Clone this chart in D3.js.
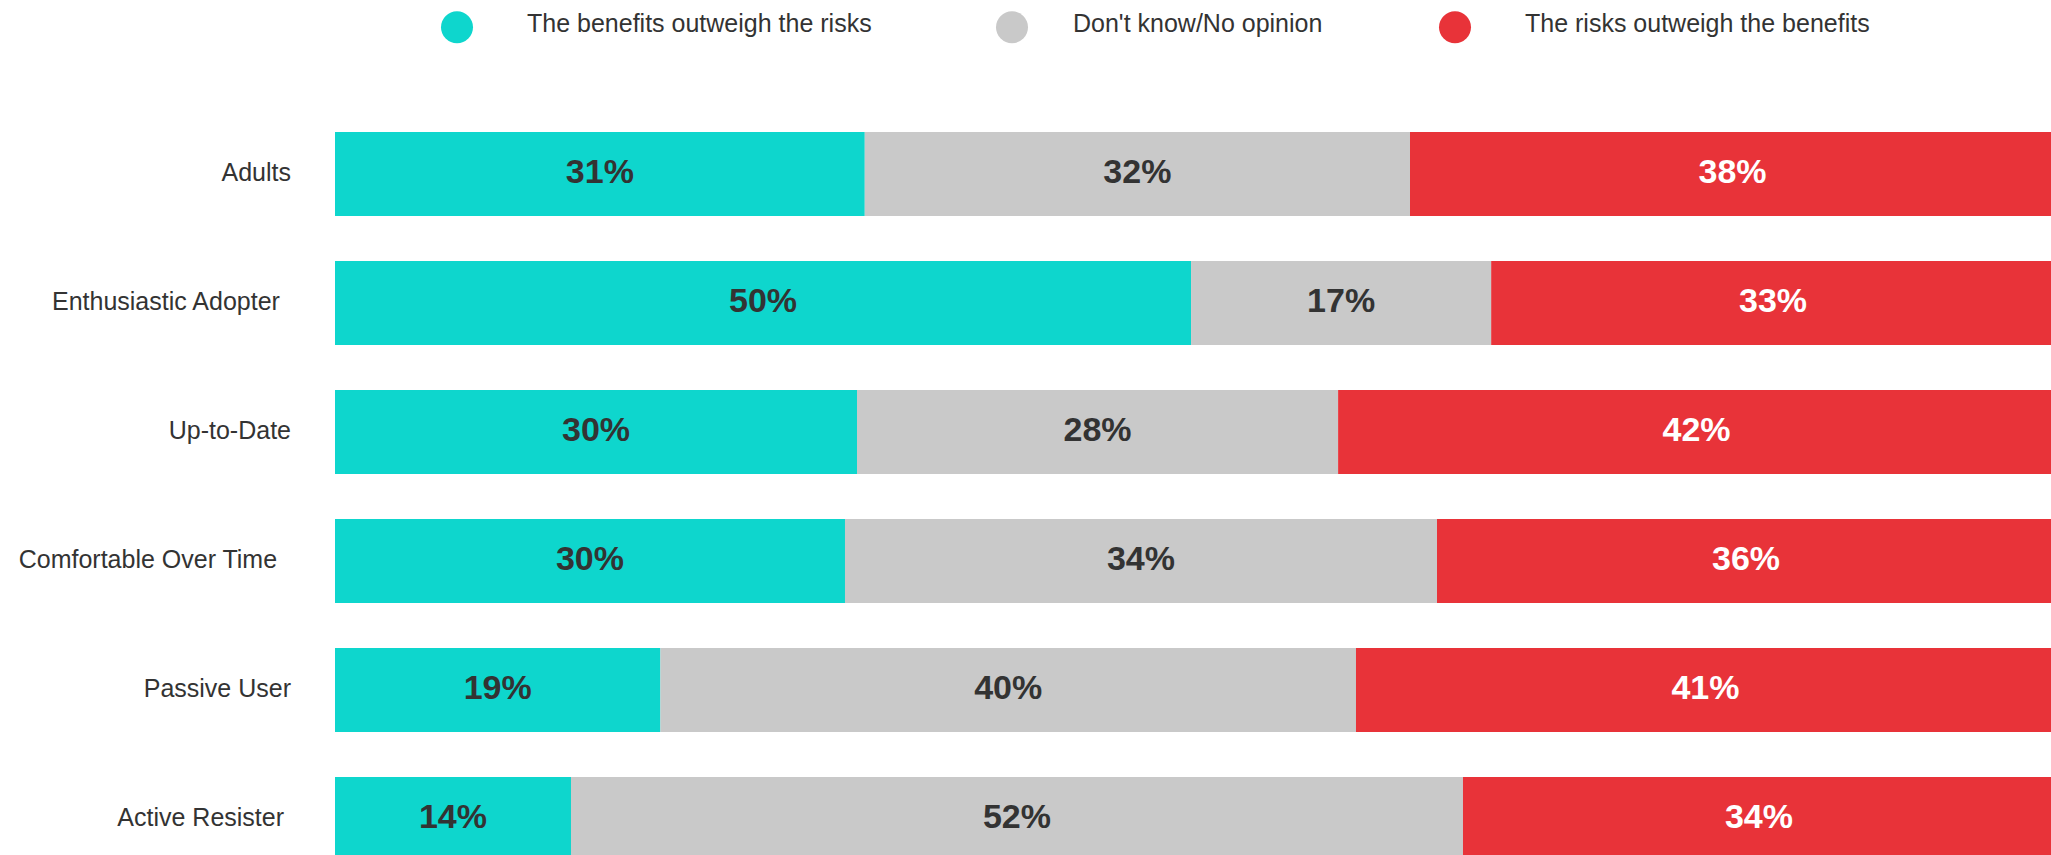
<!DOCTYPE html>
<html>
<head>
<meta charset="utf-8">
<script src="https://cdn.jsdelivr.net/npm/d3@7"></script>
<style>
  html, body { margin: 0; padding: 0; background: #fff; overflow: hidden; }
  svg { display: block; font-family: "Liberation Sans", Arial, sans-serif; }
  text { white-space: pre; }
</style>
</head>
<body>
<svg id="chart" width="2051" height="855"></svg>
<script>
// ---- data ----
const categories = [
  "Adults",
  "Enthusiastic Adopter \u2006",
  "Up-to-Date",
  "Comfortable Over Time  ",
  "Passive User",
  "Active Resister "
];
const seriesNames = [
  "The benefits outweigh the risks",
  "Don't know/No opinion",
  "The risks outweigh the benefits"
];
const benefits = [30.8, 49.77, 30.35, 29.65, 18.92, 13.72];
const dontKnow = [31.7, 17.45, 27.97, 34.42, 40.44, 51.86];
const risks    = [37.5, 32.78, 41.68, 35.93, 40.64, 34.42];

// ---- styles / layout ----
const colors = ["#0ed6cd", "#c9c9c9", "#e83339"];
const labelColors = ["#333333", "#333333", "#ffffff"];

const svg = d3.select("#chart");

const stackData = categories.map((c, i) => ({ cat: c, s0: benefits[i], s1: dontKnow[i], s2: risks[i] }));
const series = d3.stack().keys(["s0", "s1", "s2"])(stackData);

const x = d3.scaleLinear().domain([0, 100]).range([335, 2055]);
const y = d3.scaleBand().domain(categories)
  .range([109.5, 883.5]).paddingInner(45 / 129).paddingOuter(22.5 / 129);

// bars + value labels
const g = svg.append("g");
series.forEach((s, si) => {
  g.append("g").attr("fill", colors[si])
    .selectAll("rect").data(s).join("rect")
    .attr("x", d => x(d[0]))
    .attr("y", d => y(d.data.cat))
    .attr("width", d => x(d[1]) - x(d[0]))
    .attr("height", y.bandwidth());
  g.append("g").selectAll("text").data(s).join("text")
    .attr("x", d => (x(d[0]) + x(d[1])) / 2)
    .attr("y", d => y(d.data.cat) + y.bandwidth() / 2 + 8.8)
    .attr("text-anchor", "middle")
    .attr("font-size", 34)
    .attr("font-weight", "bold")
    .attr("fill", labelColors[si])
    .text(d => Math.round(d[1] - d[0]) + "%");
});

// category axis
const yAxis = d3.axisLeft(y).tickSize(0).tickPadding(0);
const ag = svg.append("g").attr("transform", "translate(291,0)").call(yAxis);
ag.select(".domain").remove();
ag.selectAll(".tick text")
  .attr("font-size", 25)
  .attr("font-family", "Liberation Sans, Arial, sans-serif")
  .attr("fill", "#333333")
  .attr("dy", null)
  .attr("y", 6.6);

// legend
const legendCircleX = [457, 1012, 1455];
const legendTextX = [527, 1073, 1525];
const lg = svg.append("g");
seriesNames.forEach((name, i) => {
  lg.append("circle").attr("cx", legendCircleX[i]).attr("cy", 27.3).attr("r", 16).attr("fill", colors[i]);
  lg.append("text").attr("x", legendTextX[i]).attr("y", 32)
    .attr("font-size", 25).attr("fill", "#333333").text(name);
});
</script>
</body>
</html>
